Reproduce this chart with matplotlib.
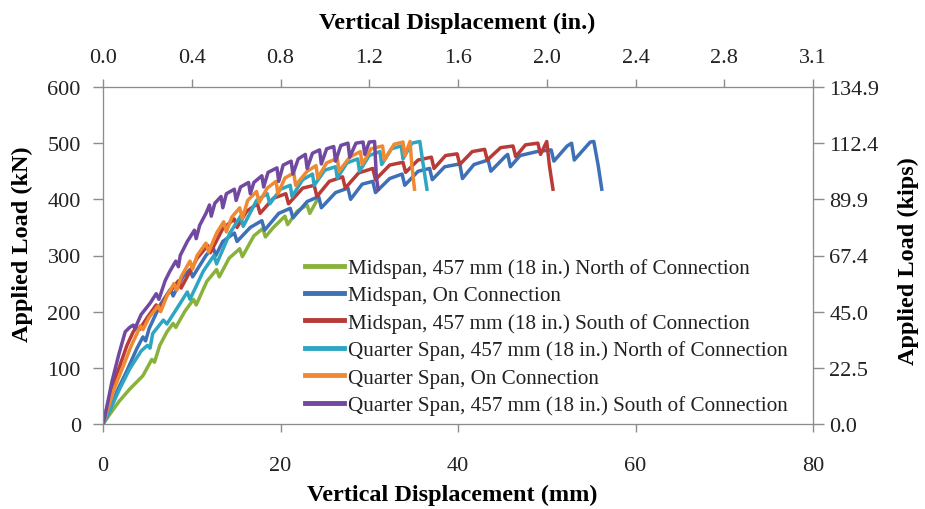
import matplotlib
matplotlib.use("Agg")
import matplotlib.pyplot as plt

# Vertical displacement (mm) vs applied load (kN)
mid_north_x = [0, 0.8, 1.8, 3.0, 4.5, 5.5, 5.8, 6.4, 7.2, 7.9, 8.2, 9.2, 10.2, 10.5, 11.7, 12.8, 13.1,
               14.2, 15.4, 15.7, 17.0, 18.0, 18.3, 19.2, 20.5, 20.8, 21.9, 23.0, 23.3, 24.1]
mid_north_y = [0, 18, 40, 62, 86, 115, 110, 140, 164, 179, 172, 200, 222, 212, 254, 275, 262,
               295, 312, 298, 335, 348, 333, 350, 370, 355, 379, 390, 375, 398]

mid_on_x = [0, 0.8, 1.6, 2.7, 3.8, 4.5, 4.8, 5.2, 6.4, 7.6, 7.9, 9.0, 9.8, 10.1, 11.6, 12.4, 12.7,
            13.5, 14.8, 15.1, 16.6, 17.9, 18.2, 19.8, 21.1, 21.4, 23.0, 24.3, 24.6, 26.2, 27.6, 27.9,
            29.2, 30.4, 30.7, 32.3, 33.7, 34.0, 35.5, 36.8, 37.1, 38.5, 40.2, 40.5, 41.8, 43.4, 43.7,
            45.3, 45.6, 45.9, 47.0, 48.9, 50.5, 50.8, 52.3, 52.8, 53.1, 54.9, 55.3, 55.8, 56.2]
mid_on_y = [0, 25, 59, 95, 134, 155, 148, 170, 211, 240, 228, 262, 275, 262, 300, 315, 300,
            325, 340, 325, 350, 362, 345, 375, 384, 367, 396, 405, 385, 412, 420, 400,
            427, 432, 412, 437, 445, 425, 450, 455, 435, 458, 463, 437, 462, 470, 450,
            476, 480, 458, 478, 485, 488, 468, 495, 500, 470, 502, 503, 460, 418]

mid_south_x = [0, 0.6, 1.2, 1.9, 2.7, 3.4, 3.8, 4.1, 5.0, 6.0, 6.3, 7.2, 8.5, 8.8, 10.6, 11.8, 12.1,
               13.5, 14.8, 15.1, 16.2, 17.4, 17.7, 19.2, 20.6, 20.9, 22.5, 23.8, 24.1, 25.5, 27.0, 27.3,
               28.8, 30.4, 30.7, 32.3, 33.8, 34.1, 35.5, 37.0, 37.3, 38.6, 39.9, 40.2, 41.6, 43.0, 43.3,
               44.8, 46.2, 46.5, 47.6, 49.0, 49.3, 50.0, 50.3, 50.7]
mid_south_y = [0, 40, 75, 104, 140, 164, 173, 168, 190, 212, 202, 229, 255, 242, 295, 318, 305,
               348, 365, 350, 379, 392, 375, 402, 410, 392, 420, 425, 405, 432, 440, 420,
               447, 455, 435, 461, 466, 448, 470, 475, 455, 478, 481, 462, 485, 489, 470,
               492, 495, 476, 497, 500, 480, 503, 460, 418]

qs_north_x = [0, 0.8, 1.8, 3.0, 4.3, 5.0, 5.3, 5.6, 6.8, 7.2, 8.3, 9.5, 9.8, 11.3, 12.5, 12.8, 14.3,
              15.5, 15.8, 17.3, 18.5, 18.8, 20.0, 21.1, 21.3, 22.5, 23.6, 23.8, 25.0, 26.2, 26.4, 27.5,
              28.7, 28.9, 30.0, 31.2, 31.4, 32.5, 33.6, 33.8, 34.8, 35.7, 36.0, 36.5]
qs_north_y = [0, 25, 60, 98, 130, 140, 135, 161, 185, 178, 205, 235, 222, 272, 300, 285, 340,
              370, 352, 398, 410, 392, 418, 425, 405, 435, 445, 425, 452, 458, 438, 465,
              472, 450, 478, 485, 462, 490, 495, 472, 500, 503, 470, 418]

qs_on_x = [0, 0.5, 1.2, 2.3, 3.2, 3.8, 4.2, 4.5, 5.2, 6.2, 6.5, 7.2, 8.0, 8.3, 8.8, 9.8, 10.1, 10.6,
           11.6, 11.9, 12.8, 13.6, 13.9, 14.5, 15.4, 15.7, 16.3, 17.3, 17.6, 18.5, 19.5, 19.7, 20.5,
           21.5, 21.7, 23.0, 24.0, 24.2, 25.2, 26.4, 26.6, 27.8, 29.0, 29.2, 30.2, 31.5, 31.7, 32.8,
           33.8, 34.0, 34.6, 34.8, 35.1]
qs_on_y = [0, 25, 60, 104, 140, 160, 175, 168, 190, 210, 200, 228, 250, 238, 262, 290, 276, 300,
           322, 306, 340, 360, 342, 368, 385, 366, 398, 414, 394, 420, 432, 410, 438,
           447, 425, 450, 460, 438, 465, 473, 450, 475, 485, 462, 490, 495, 470, 498,
           502, 478, 503, 460, 418]

qs_south_x = [0, 0.3, 1.0, 1.8, 2.5, 3.0, 3.4, 3.6, 4.3, 5.3, 6.0, 6.3, 7.0, 7.5, 8.2, 8.5, 8.7, 9.5,
              10.3, 10.5, 10.9, 11.6, 12.0, 12.2, 12.6, 13.3, 13.5, 13.9, 14.8, 15.0, 15.5, 16.4, 16.6,
              17.0, 17.9, 18.1, 18.6, 19.6, 19.8, 20.3, 21.2, 21.4, 22.0, 22.8, 23.0, 23.6, 24.4, 24.6,
              25.2, 26.0, 26.2, 26.8, 27.6, 27.8, 28.5, 29.3, 29.5, 30.0, 30.6, 30.8, 31.0]
qs_south_y = [0, 20, 75, 125, 164, 172, 176, 170, 195, 215, 232, 222, 255, 271, 290, 280, 300, 325,
              345, 330, 354, 375, 390, 370, 393, 405, 385, 410, 418, 398, 422, 430, 410,
              430, 442, 422, 448, 456, 432, 461, 468, 445, 472, 480, 455, 482, 488, 463,
              490, 494, 468, 496, 500, 475, 500, 502, 480, 502, 503, 440, 418]

labels = [
    "Midspan, 457 mm (18 in.) North of Connection",
    "Midspan, On Connection",
    "Midspan, 457 mm (18 in.) South of Connection",
    "Quarter Span, 457 mm (18 in.) North of Connection",
    "Quarter Span, On Connection",
    "Quarter Span, 457 mm (18 in.) South of Connection",
]
colors = ["#88b23c", "#3d70b6", "#b83b37", "#2ea6c2", "#f08a32", "#7149a0"]

x_ticks_mm = [0, 20, 40, 60, 80]
top_ticks_mm = [0, 10, 20, 30, 40, 50, 60, 70, 80]
y_ticks_kn = [0, 100, 200, 300, 400, 500, 600]

plt.rcParams["font.family"] = ["Liberation Serif", "DejaVu Serif"]

fig = plt.figure(figsize=(9.25, 5.1), dpi=100)
ax = fig.add_axes([103 / 925, 85 / 510, 710 / 925, 337 / 510])

series = [
    (mid_north_x, mid_north_y),
    (mid_on_x, mid_on_y),
    (mid_south_x, mid_south_y),
    (qs_north_x, qs_north_y),
    (qs_on_x, qs_on_y),
    (qs_south_x, qs_south_y),
]
for (xs, ys), lab, col in zip(series, labels, colors):
    ax.plot(xs, ys, color=col, lw=2.5, label=lab, solid_joinstyle="round")

spine_col = "#8c8c8c"
txt_col = "#222222"
lab_size = 17.5

ax.set_xlim(0, 80)
ax.set_ylim(0, 600)
ax.set_xticks(x_ticks_mm)
ax.set_yticks(y_ticks_kn)
ax.tick_params(axis="x", direction="out", length=6, width=1, color=spine_col,
               pad=17, labelsize=16, labelcolor=txt_col)
ax.tick_params(axis="y", direction="out", length=7, width=1, color=spine_col,
               pad=9, labelsize=16, labelcolor=txt_col)
for sp in ax.spines.values():
    sp.set_color(spine_col)
ax.set_xlabel("Vertical Displacement (mm)", fontsize=lab_size, fontweight="bold")
ax.set_ylabel("Applied Load (kN)", fontsize=lab_size, fontweight="bold")
ax.xaxis.set_label_coords(0.5 - 6 / 710, -60 / 337)
ax.yaxis.set_label_coords(-70 / 710, 181 / 337)

# right axis in kips
axr = ax.twinx()
axr.set_ylim(0, 600)
axr.set_yticks(y_ticks_kn)
axr.set_yticklabels([f"{v * 0.224809:.1f}" for v in y_ticks_kn])
axr.tick_params(axis="y", direction="out", length=8, width=1, color=spine_col,
                pad=3.7, labelsize=16, labelcolor=txt_col)
axr.set_ylabel("Applied Load (kips)", fontsize=lab_size, fontweight="bold")
axr.yaxis.set_label_coords(795 / 710, 164 / 337)

# top axis in inches
axt = ax.twiny()
axt.set_xlim(0, 80)
axt.set_xticks(top_ticks_mm)
axt.set_xticklabels([f"{v / 25.4:.1f}" for v in top_ticks_mm])
axt.tick_params(axis="x", direction="out", length=6, width=1, color=spine_col,
                pad=8.5, labelsize=16, labelcolor=txt_col)
axt.set_xlabel("Vertical Displacement (in.)", fontsize=lab_size, fontweight="bold")
axt.xaxis.set_label_coords(0.5 - 1 / 710, 396 / 337)
for a in (axr, axt):
    for sp in a.spines.values():
        sp.set_color(spine_col)

leg = ax.legend(loc="upper left", bbox_to_anchor=(305 / 925, 1 - 259 / 510),
                bbox_transform=fig.transFigure, frameon=False, fontsize=15.2,
                handlelength=1.85, handletextpad=0.2, labelspacing=0.36,
                borderpad=0, borderaxespad=0)
for line in leg.get_lines():
    line.set_linewidth(3.5)
for t in leg.get_texts():
    t.set_color(txt_col)

fig.savefig("out.png", dpi=100)
